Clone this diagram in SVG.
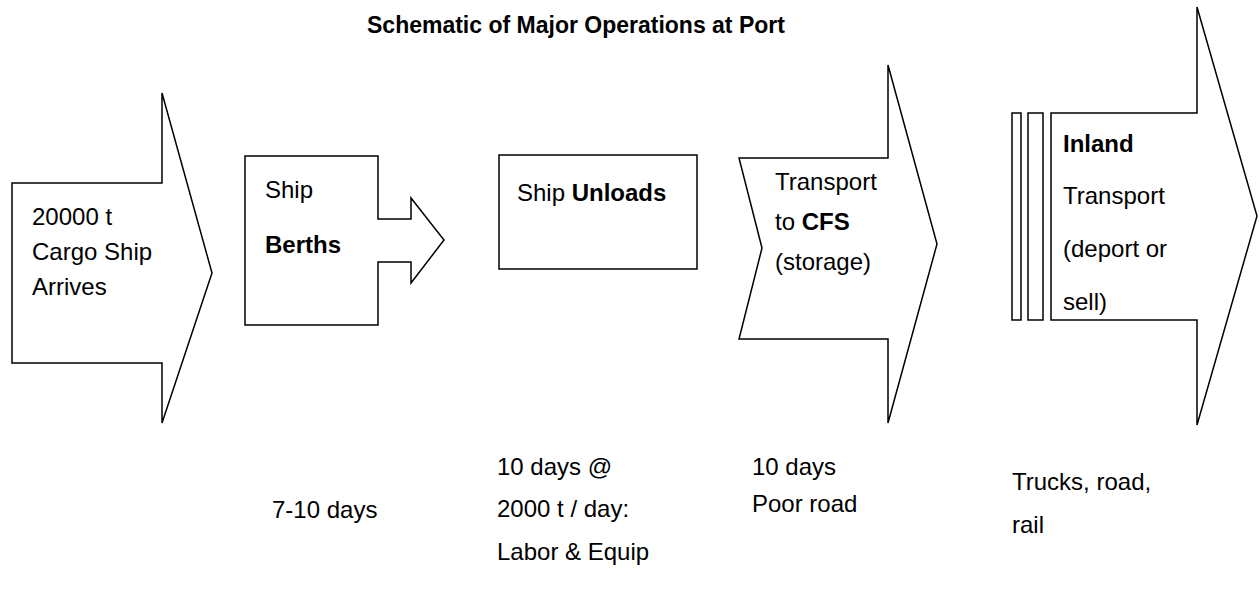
<svg xmlns="http://www.w3.org/2000/svg" width="1259" height="592" viewBox="0 0 1259 592">
  <style>
    .shape { fill: #ffffff; stroke: #000000; stroke-width: 1.5; stroke-linejoin: miter; }
    .txt { font-family: "Liberation Sans", Arial, sans-serif; font-size: 24px; fill: #000000; }
    .b { font-weight: bold; }
    .title { font-family: "Liberation Sans", Arial, sans-serif; font-size: 23px; font-weight: bold; fill: #000000; }
  </style>
  <rect x="0" y="0" width="1259" height="592" fill="#ffffff"/>

  <text class="title" x="367" y="33">Schematic of Major Operations at Port</text>

  <!-- step 1: ship arrives -->
  <g id="arrive">
    <polygon class="shape" points="12,183 162,183 162,93 212,273 162,423 162,363 12,363"/>
    <text class="txt" x="32" y="225">20000 t</text>
    <text class="txt" x="32" y="260">Cargo Ship</text>
    <text class="txt" x="32" y="295">Arrives</text>
  </g>

  <!-- step 2: berthing -->
  <g id="berths">
    <polygon class="shape" points="245,156 378,156 378,219 411,219 411,198 444,240 411,283 411,262 378,262 378,325 245,325"/>
    <text class="txt" x="265" y="198">Ship</text>
    <text class="txt b" x="265" y="253">Berths</text>
  </g>

  <!-- step 3: unloading -->
  <g id="unloads">
    <rect class="shape" x="499" y="155" width="198" height="114"/>
    <text class="txt" x="517" y="201">Ship <tspan class="b">Unloads</tspan></text>
  </g>

  <!-- step 4: transfer to container freight station -->
  <g id="cfs">
    <polygon class="shape" points="739,158 888,158 888,65 937,244 888,423 888,339 739,339 762,248"/>
    <text class="txt" x="775" y="190">Transport</text>
    <text class="txt" x="775" y="230">to <tspan class="b">CFS</tspan></text>
    <text class="txt" x="775" y="270">(storage)</text>
  </g>

  <!-- step 5: inland transport -->
  <g id="inland">
    <rect class="shape" x="1012" y="113" width="9" height="207"/>
    <rect class="shape" x="1028" y="113" width="15" height="207"/>
    <polygon class="shape" points="1051,113 1197,113 1197,7 1257,216 1197,425 1197,320 1051,320"/>
    <text class="txt b" x="1063" y="152">Inland</text>
    <text class="txt" x="1063" y="204">Transport</text>
    <text class="txt" x="1063" y="257">(deport or</text>
    <text class="txt" x="1063" y="310">sell)</text>
  </g>

  <!-- durations and notes under each step -->
  <g id="notes">
    <text class="txt" x="272" y="518">7-10 days</text>
    <text class="txt" x="497" y="475">10 days @</text>
    <text class="txt" x="497" y="517">2000 t / day:</text>
    <text class="txt" x="497" y="560">Labor &amp; Equip</text>
    <text class="txt" x="752" y="475">10 days</text>
    <text class="txt" x="752" y="512">Poor road</text>
    <text class="txt" x="1012" y="490">Trucks, road,</text>
    <text class="txt" x="1012" y="533">rail</text>
  </g>

  <!-- no separate connectors: the arrows themselves carry the flow -->
  <g id="connectors"></g>
</svg>
